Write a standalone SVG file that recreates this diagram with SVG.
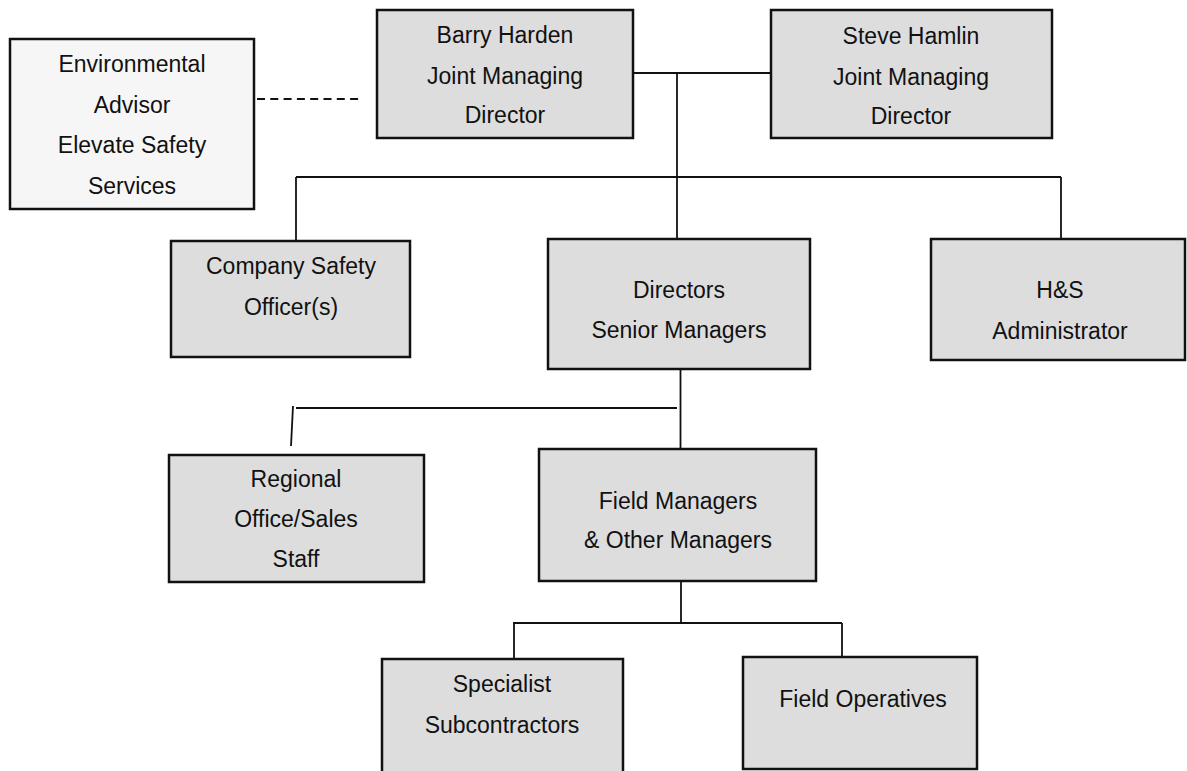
<svg xmlns="http://www.w3.org/2000/svg" width="1187" height="771" viewBox="0 0 1187 771">
<style>
.box{fill:#dddddd;stroke:#111;stroke-width:2.5}
.lite{fill:#f6f6f6;stroke:#111;stroke-width:2.5}
.t{font-family:"Liberation Sans",Arial,sans-serif;font-size:23px;fill:#111;text-anchor:middle}
.c{stroke:#111;stroke-width:1.8;fill:none}
.d{stroke:#111;stroke-width:1.8;fill:none;stroke-dasharray:8 5.3}
</style>
<rect width="1187" height="771" fill="#fff"/>
<g id="connectors">
<line class="c" x1="633" y1="73" x2="771" y2="73"/>
<line class="c" x1="677" y1="73" x2="677" y2="239"/>
<line class="c" x1="296" y1="177" x2="1061" y2="177"/>
<line class="c" x1="296" y1="177" x2="296" y2="241"/>
<line class="c" x1="1061" y1="177" x2="1061" y2="239"/>
<line class="d" x1="257" y1="99" x2="362" y2="99"/>
<line class="c" x1="680.5" y1="369" x2="680.5" y2="449"/>
<line class="c" x1="296" y1="408" x2="677" y2="408"/>
<line class="c" x1="293" y1="406" x2="291" y2="446"/>
<line class="c" x1="681" y1="581" x2="681" y2="623"/>
<line class="c" x1="513" y1="623" x2="842" y2="623"/>
<line class="c" x1="514" y1="623" x2="514" y2="659"/>
<line class="c" x1="842" y1="623" x2="842" y2="657"/>
</g>
<g id="env">
<rect class="lite" x="10" y="39" width="244" height="170"/>
<text class="t" x="132" y="72">Environmental</text>
<text class="t" x="132" y="112.5">Advisor</text>
<text class="t" x="132" y="153">Elevate Safety</text>
<text class="t" x="132" y="193.5">Services</text>
</g>
<g id="barry">
<rect class="box" x="377" y="10" width="256" height="128"/>
<text class="t" x="505" y="43">Barry Harden</text>
<text class="t" x="505" y="84">Joint Managing</text>
<text class="t" x="505" y="123">Director</text>
</g>
<g id="steve">
<rect class="box" x="771" y="10" width="281" height="128"/>
<text class="t" x="911" y="44">Steve Hamlin</text>
<text class="t" x="911" y="85">Joint Managing</text>
<text class="t" x="911" y="124">Director</text>
</g>
<g id="cso">
<rect class="box" x="171" y="241" width="239" height="116"/>
<text class="t" x="291" y="274">Company Safety</text>
<text class="t" x="291" y="315">Officer(s)</text>
</g>
<g id="directors">
<rect class="box" x="548" y="239" width="262" height="130"/>
<text class="t" x="679" y="298">Directors</text>
<text class="t" x="679" y="338">Senior Managers</text>
</g>
<g id="hs">
<rect class="box" x="931" y="239" width="254" height="121"/>
<text class="t" x="1060" y="298">H&amp;S</text>
<text class="t" x="1060" y="339">Administrator</text>
</g>
<g id="regional">
<rect class="box" x="169" y="455" width="255" height="127"/>
<text class="t" x="296" y="487">Regional</text>
<text class="t" x="296" y="527">Office/Sales</text>
<text class="t" x="296" y="567">Staff</text>
</g>
<g id="fieldmanagers">
<rect class="box" x="539" y="449" width="277" height="132"/>
<text class="t" x="678" y="509">Field Managers</text>
<text class="t" x="678" y="548">&amp; Other Managers</text>
</g>
<g id="specialist">
<rect class="box" x="382" y="659" width="241" height="125"/>
<text class="t" x="502" y="692">Specialist</text>
<text class="t" x="502" y="733">Subcontractors</text>
</g>
<g id="fieldops">
<rect class="box" x="743" y="657" width="234" height="112"/>
<text class="t" x="863" y="707">Field Operatives</text>
</g>
</svg>
